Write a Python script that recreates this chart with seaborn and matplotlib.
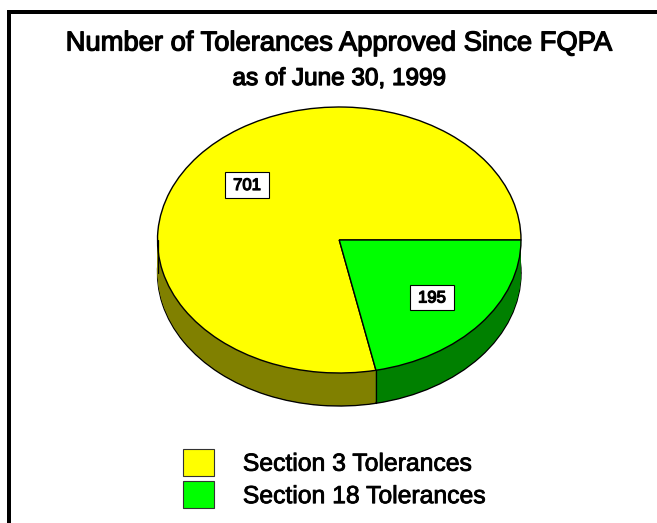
import numpy as np
import seaborn as sns
import matplotlib.pyplot as plt
import matplotlib.patheffects as pe
from matplotlib.patches import Patch, Rectangle

labels = ["Section 3 Tolerances", "Section 18 Tolerances"]
values = [701, 195]
top_colors = ["#ffff00", "#00ff00"]
side_colors = ["#808000", "#008000"]

W, H = 657, 523
DEPTH = 33 / 133

sns.set_theme(style="white")
plt.rcParams['font.family'] = ['Liberation Sans', 'DejaVu Sans']

fig = plt.figure(figsize=(W / 100, H / 100), dpi=100)
ax = fig.add_axes([157.5 / W, 1 - (107 + 133 * (2 + DEPTH)) / H, 363.5 / W, 133 * (2 + DEPTH) / H])
bold = [pe.withStroke(linewidth=0.9, foreground="black")]


# side wall, stacked copies of the pie going down
def layer(colors, d, edge=None):
    wedges, _ = ax.pie(values, colors=colors, startangle=0, counterclock=True, center=(0, -d),
                       radius=1, wedgeprops=dict(edgecolor=edge, linewidth=1 if edge else 0))
    return wedges


layer(side_colors, DEPTH, "black")
for d in np.arange(DEPTH - 1 / 133, 0, -1 / 133):
    layer(side_colors, d)
layer(top_colors, 0, "black")

# vertical edges of the wall
angle = np.deg2rad(360 * values[0] / sum(values))
for x, y in [(-1, 0), (1, 0), (np.cos(angle), np.sin(angle))]:
    ax.plot([x, x], [y, y - DEPTH], color="black", lw=0.9, zorder=5)

ax.set_aspect("auto")
ax.set_xlim(-1, 1)
ax.set_ylim(-1 - DEPTH, 1)

# value boxes
for val, bx, by in zip(values, [225, 410], [172, 284.5]):
    fig.add_artist(Rectangle((bx / W, 1 - (by + 25.5) / H), 44 / W, 25.5 / H, transform=fig.transFigure,
                             facecolor="white", edgecolor="black", linewidth=0.8))
    fig.text((bx + 22) / W, 1 - (by + 13.5) / H, str(val), ha="center", va="center", fontsize=12,
             color="black", path_effects=bold)

fig.text(339 / W, 1 - 43.5 / H, "Number of Tolerances Approved Since FQPA", ha="center", va="center",
         fontsize=19.7, color="black", path_effects=bold)
fig.text(339 / W, 1 - 79 / H, "as of June 30, 1999", ha="center", va="center",
         fontsize=17.5, color="black", path_effects=bold)

# outer frame, left and top only
fig.add_artist(Rectangle((7 / W, 0), 3.5 / W, 1 - 10 / H, transform=fig.transFigure, color="black", lw=0))
fig.add_artist(Rectangle((7 / W, 1 - 14 / H), 1, 4 / H, transform=fig.transFigure, color="black", lw=0))

handles = [Patch(facecolor=c, edgecolor="#333333", linewidth=0.8) for c in top_colors]
leg = fig.legend(handles, labels, loc="upper left", bbox_to_anchor=(183 / W, 1 - 449 / H), frameon=False,
                 fontsize=17.8, handlelength=1.25, handleheight=1.3, handletextpad=1.17, labelspacing=0.22,
                 borderpad=0, borderaxespad=0, labelcolor="black")
for t in leg.get_texts():
    t.set_path_effects([pe.withStroke(linewidth=0.6, foreground="black")])

fig.savefig("out.png", dpi=100)
